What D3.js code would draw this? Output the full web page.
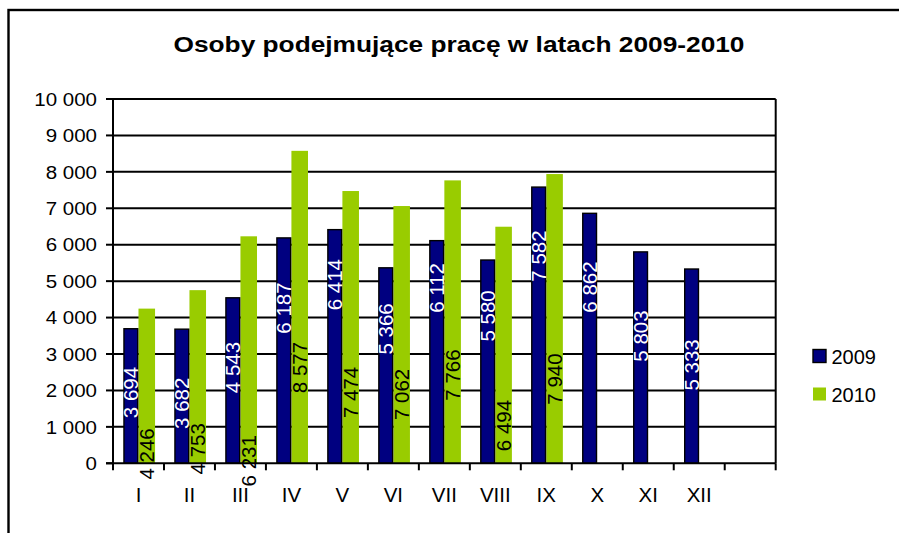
<!DOCTYPE html>
<html>
<head>
<meta charset="utf-8">
<script src="https://cdn.jsdelivr.net/npm/d3@7"></script>
<style>
  body { margin: 0; background: #fff; }
  svg { display: block; }
  text { font-family: Arial, "Liberation Sans", sans-serif; fill: #000; }
</style>
</head>
<body>
<svg id="chart" width="899" height="533"></svg>
<script>
// Months (Roman numerals) plus one empty slot at the end of the axis
const months = ["I", "II", "III", "IV", "V", "VI", "VII", "VIII", "IX", "X", "XI", "XII", ""];
const seriesNames = ["2009", "2010"];
const values2009 = [3694, 3682, 4543, 6187, 6414, 5366, 6112, 5580, 7582, 6862, 5803, 5333];
const values2010 = [4246, 4753, 6231, 8577, 7474, 7062, 7766, 6494, 7940];
const yTicks = [0, 1000, 2000, 3000, 4000, 5000, 6000, 7000, 8000, 9000, 10000];
const chartTitle = "Osoby podejmujące pracę w latach 2009-2010";

const colors = { "2009": "#000080", "2010": "#99cc00" };

// Vertical shift (px) of each rotated value label from its bar's midpoint
const labelShift2009 = [-3.5, 7, -13, -42.6, -61.8, -36.6, -64, -45.7, -69.2, -51.3, -21.6, -1.2];
const labelShift2010 = [68, 72, 111, 60.4, 65.3, 59.8, 53.2, 80.5, 60.3];

const svg = d3.select("#chart");
const plot = { left: 113, right: 775.7, top: 99, bottom: 463.3 };

const x = d3.scaleBand().domain(months).range([plot.left, plot.right]).padding(0);
const y = d3.scaleLinear().domain([0, 10000]).range([plot.bottom, plot.top]);

const pl = d3.formatLocale({ decimal: ",", thousands: "\u00a0", grouping: [3], currency: ["", " zł"] });
const fmt = pl.format(",d");

// Outer chart frame (right and bottom edges run past the page)
svg.append("rect")
  .attr("x", 8.5).attr("y", 10)
  .attr("width", 1000).attr("height", 1000)
  .attr("fill", "none").attr("stroke", "#000").attr("stroke-width", 2.4);

// Title
svg.append("text")
  .attr("x", 173.5).attr("y", 52)
  .attr("font-weight", "bold")
  .attr("font-size", 22)
  .attr("textLength", 571)
  .attr("lengthAdjust", "spacingAndGlyphs")
  .text(chartTitle);

// Horizontal gridlines + plot border
const grid = svg.append("g").attr("stroke", "#000").attr("stroke-width", 2);
grid.selectAll("line.g")
  .data(yTicks.filter(d => d > 0))
  .join("line")
  .attr("x1", plot.left).attr("x2", plot.right)
  .attr("y1", d => y(d)).attr("y2", d => y(d));
grid.append("line")
  .attr("x1", plot.right).attr("x2", plot.right)
  .attr("y1", plot.top).attr("y2", plot.bottom);

// Bars
const bw = x.bandwidth();
const gBars = svg.append("g");
gBars.selectAll("rect.b2010")
  .data(values2010)
  .join("rect")
  .attr("x", (d, i) => x(months[i]) + bw * 0.5)
  .attr("width", bw * 0.325)
  .attr("y", d => y(d))
  .attr("height", d => y(0) - y(d))
  .attr("fill", colors["2010"]);
gBars.selectAll("rect.b2009")
  .data(values2009)
  .join("rect")
  .attr("x", (d, i) => x(months[i]) + bw * 0.215)
  .attr("width", bw * 0.27)
  .attr("y", d => y(d))
  .attr("height", d => y(0) - y(d))
  .attr("fill", colors["2009"])
  .attr("stroke", "#000")
  .attr("stroke-width", 1.4);

// Axes
const axes = svg.append("g").attr("stroke", "#000").attr("stroke-width", 2);
axes.append("line")
  .attr("x1", plot.left).attr("x2", plot.left)
  .attr("y1", plot.top).attr("y2", plot.bottom + 7);
axes.append("line")
  .attr("x1", plot.left - 7).attr("x2", plot.right)
  .attr("y1", plot.bottom).attr("y2", plot.bottom);
axes.selectAll("line.yt")
  .data(yTicks)
  .join("line")
  .attr("x1", plot.left - 7).attr("x2", plot.left)
  .attr("y1", d => y(d)).attr("y2", d => y(d));
axes.selectAll("line.xt")
  .data(months.map(m => x(m) + bw))
  .join("line")
  .attr("x1", d => d).attr("x2", d => d)
  .attr("y1", plot.bottom).attr("y2", plot.bottom + 7);

// Y tick labels
svg.append("g").selectAll("text")
  .data(yTicks)
  .join("text")
  .attr("transform", d => `translate(97,${y(d)}) scale(1.08,1)`)
  .attr("text-anchor", "end")
  .attr("dominant-baseline", "central")
  .attr("font-size", 19)
  .text(d => fmt(d));

// X tick labels
svg.append("g").selectAll("text")
  .data(months)
  .join("text")
  .attr("x", d => x(d) + bw / 2)
  .attr("y", 502)
  .attr("text-anchor", "middle")
  .attr("font-size", 20.5)
  .text(d => d);

// Value labels, rotated
function valueLabels(values, shifts, cx, fill) {
  svg.append("g").selectAll("text")
    .data(values)
    .join("text")
    .attr("transform", (d, i) => {
      const px = x(months[i]) + cx;
      const py = (y(d) + y(0)) / 2 + shifts[i];
      return `translate(${px},${py}) rotate(-90)`;
    })
    .attr("text-anchor", "middle")
    .attr("dominant-baseline", "central")
    .attr("font-size", 20.5)
    .style("fill", fill)
    .text(d => fmt(d));
}
valueLabels(values2009, labelShift2009, bw * 0.35, "#fff");
valueLabels(values2010, labelShift2010, bw * 0.6625, "#000");

// Legend
const legend = svg.append("g");
seriesNames.forEach((name, i) => {
  const ly = 349.5 + i * 38;
  legend.append("rect")
    .attr("x", 813).attr("y", ly)
    .attr("width", 13).attr("height", 13)
    .attr("fill", colors[name])
    .attr("stroke", i === 0 ? "#000" : "none")
    .attr("stroke-width", 1.4);
  legend.append("text")
    .attr("x", 831.5).attr("y", ly + 14.5)
    .attr("font-size", 20)
    .text(name);
});
</script>
</body>
</html>
